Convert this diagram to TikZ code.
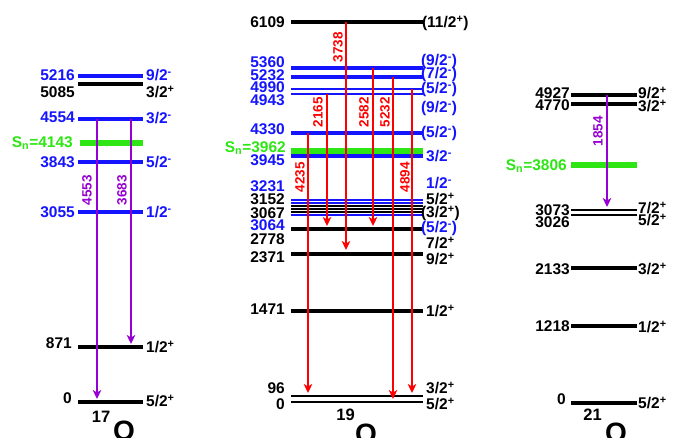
\documentclass[tikz,border=0pt]{standalone}
\usepackage{fontspec}
\setmainfont{Liberation Sans}
\usetikzlibrary{arrows.meta}
\definecolor{lvblue}{RGB}{20,20,255}
\definecolor{lvgreen}{RGB}{45,230,20}
\definecolor{lvred}{RGB}{255,0,0}
\definecolor{lvpurple}{RGB}{150,0,210}
\begin{document}
\begin{tikzpicture}[x=1pt,y=-1pt,
  lev/.style={line width=3.1pt},
  pairlev/.style={line width=2.7pt},
  thinlev/.style={line width=2.1pt},
  snlev/.style={line width=6pt, lvgreen},
  lab/.style={font=\bfseries\fontsize{15.5}{16}\selectfont, inner sep=0pt, yshift=-5.6pt},
  llab/.style={lab, anchor=base east},
  rlab/.style={lab, anchor=base west},
  glab/.style={font=\bfseries\fontsize{13.5}{14}\selectfont, inner sep=0pt, rotate=90},
  garr/.style={line width=2pt, -{Stealth[length=9pt,width=8.5pt,inset=2.5pt]}},
  isolab/.style={font=\bfseries\fontsize{16.5}{17}\selectfont, inner sep=0pt, anchor=base east},
  elem/.style={font=\bfseries\fontsize{28}{28}\selectfont, inner sep=0pt, anchor=base west},
]
\path[use as bounding box, fill=white] (0,0) rectangle (683,438);

% ---------------- 17O ----------------
\draw[lev, lvblue] (78,76) -- (143,76);
\draw[lev] (78,84) -- (143,84);
\draw[lev, lvblue] (78,119) -- (143,119);
\draw[snlev] (80,143) -- (143,143);
\draw[lev, lvblue] (78,162) -- (143,162);
\draw[lev, lvblue] (78,212) -- (143,212);
\draw[lev] (78,347) -- (143,347);
\draw[lev] (78,402) -- (143,402);

\node[llab, lvblue] (a5216) at (75,75) {5216};
\node[llab] (a5085) at (75,92) {5085};
\node[llab, lvblue] (a4554) at (75,117) {4554};
\node[llab, lvgreen] (asn) at (73,142) {S\textsubscript{n}=4143};
\node[llab, lvblue] (a3843) at (75,162) {3843};
\node[llab, lvblue] (a3055) at (75,212) {3055};
\node[llab] (a871) at (72,343) {871};
\node[llab] (a0) at (72,398) {0};

\node[rlab, lvblue] (aj5216) at (146,75) {9/2\textsuperscript{-}};
\node[rlab] (aj5085) at (146,92) {3/2\textsuperscript{+}};
\node[rlab, lvblue] (aj4554) at (146,118) {3/2\textsuperscript{-}};
\node[rlab, lvblue] (aj3843) at (146,162) {5/2\textsuperscript{-}};
\node[rlab, lvblue] (aj3055) at (146,212) {1/2\textsuperscript{-}};
\node[rlab] (aj871) at (146,347) {1/2\textsuperscript{+}};
\node[rlab] (aj0) at (146,401) {5/2\textsuperscript{+}};

\coordinate (p1s) at (97,119); \coordinate (p1e) at (97,399);
\coordinate (p2s) at (131,119); \coordinate (p2e) at (131,344);
\draw[garr, lvpurple] (p1s) -- (p1e);
\draw[garr, lvpurple] (p2s) -- (p2e);
\node[glab, lvpurple] (g4553) at (87,190) {4553};
\node[glab, lvpurple] (g3683) at (122,190) {3683};

\node[elem] (o17) at (113,440) {O};
\node[isolab] (m17) at (110.5,422) {17};

% ---------------- 19O ----------------
\draw[lev] (291,22) -- (423,22);
\draw[lev, lvblue] (291,68) -- (423,68);
\draw[lev, lvblue] (291,77) -- (423,77);
\draw[pairlev, lvblue] (291,89) -- (423,89);
\draw[pairlev, lvblue] (291,94) -- (423,94);
\draw[lev, lvblue] (291,133) -- (423,133);
\draw[snlev] (291,151) -- (423,151);
\draw[lev, lvblue] (291,156) -- (423,156);
\draw[thinlev, lvblue] (291,200) -- (423,200);
\draw[thinlev, lvblue] (291,203) -- (423,203);
\draw[thinlev] (291,206) -- (423,206);
\draw[thinlev] (291,209) -- (423,209);
\draw[thinlev] (291,212) -- (423,212);
\draw[thinlev, lvblue] (291,215) -- (423,215);
\draw[lev] (291,229) -- (423,229);
\draw[lev] (291,254) -- (423,254);
\draw[lev] (291,311) -- (423,311);
\draw[pairlev] (291,396) -- (423,396);
\draw[pairlev] (291,402) -- (423,402);

\node[llab] (b6109) at (285,22) {6109};
\node[llab, lvblue] (b5360) at (285,62) {5360};
\node[llab, lvblue] (b5232) at (285,75) {5232};
\node[llab, lvblue] (b4990) at (285,87) {4990};
\node[llab, lvblue] (b4943) at (285,100) {4943};
\node[llab, lvblue] (b4330) at (285,129) {4330};
\node[llab, lvgreen] (bsn) at (286,147) {S\textsubscript{n}=3962};
\node[llab, lvblue] (b3945) at (285,160) {3945};
\node[llab, lvblue] (b3231) at (285,186) {3231};
\node[llab] (b3152) at (285,199) {3152};
\node[llab] (b3067) at (285,212.5) {3067};
\node[llab, lvblue] (b3064) at (285,224.5) {3064};
\node[llab] (b2778) at (285,239) {2778};
\node[llab] (b2371) at (285,257) {2371};
\node[llab] (b1471) at (285,309) {1471};
\node[llab] (b96) at (285,388) {96};
\node[llab] (b0) at (285,404) {0};

\node[rlab] (bj6109) at (427,22) {\llap{(}11/2\textsuperscript{+})};
\node[rlab, lvblue] (bj5360) at (426,60) {\llap{(}9/2\textsuperscript{-})};
\node[rlab, lvblue] (bj5232) at (426,73) {\llap{(}7/2\textsuperscript{-})};
\node[rlab, lvblue] (bj4990) at (426,88) {\llap{(}5/2\textsuperscript{-})};
\node[rlab, lvblue] (bj4943) at (426,107) {\llap{(}9/2\textsuperscript{-})};
\node[rlab, lvblue] (bj4330) at (426,132) {\llap{(}5/2\textsuperscript{-})};
\node[rlab, lvblue] (bj3945) at (426,156) {3/2\textsuperscript{-}};
\node[rlab, lvblue] (bj3231) at (426,183) {1/2\textsuperscript{-}};
\node[rlab] (bj3152) at (426,199) {5/2\textsuperscript{+}};
\node[rlab] (bj3067) at (426,212) {\llap{(}3/2\textsuperscript{+})};
\node[rlab, lvblue] (bj3064) at (426,227) {\llap{(}5/2\textsuperscript{-})};
\node[rlab] (bj2778) at (426,243) {7/2\textsuperscript{+}};
\node[rlab] (bj2371) at (426,259) {9/2\textsuperscript{+}};
\node[rlab] (bj1471) at (426,311) {1/2\textsuperscript{+}};
\node[rlab] (bj96) at (426,388) {3/2\textsuperscript{+}};
\node[rlab] (bj0) at (426,404) {5/2\textsuperscript{+}};

\coordinate (r1s) at (346,22);  \coordinate (r1e) at (346,250);
\coordinate (r2s) at (327,94);  \coordinate (r2e) at (327,226);
\coordinate (r3s) at (373,68);  \coordinate (r3e) at (373,226);
\coordinate (r4s) at (393,77);  \coordinate (r4e) at (393,399);
\coordinate (r5s) at (412,89);  \coordinate (r5e) at (412,393);
\coordinate (r6s) at (308,133); \coordinate (r6e) at (308,393);
\draw[garr, lvred] (r1s) -- (r1e);
\draw[garr, lvred] (r2s) -- (r2e);
\draw[garr, lvred] (r3s) -- (r3e);
\draw[garr, lvred] (r4s) -- (r4e);
\draw[garr, lvred] (r5s) -- (r5e);
\draw[garr, lvred] (r6s) -- (r6e);
\node[glab, lvred] (g3738) at (338,47) {3738};
\node[glab, lvred] (g2165) at (318,112) {2165};
\node[glab, lvred] (g2582) at (364,112) {2582};
\node[glab, lvred] (g5232) at (385,112) {5232};
\node[glab, lvred] (g4235) at (300,177) {4235};
\node[glab, lvred] (g4894) at (405,177) {4894};

\node[elem] (o19) at (355,443) {O};
\node[isolab] (m19) at (355,420) {19};

% ---------------- 21O ----------------
\draw[lev] (571,95) -- (637,95);
\draw[lev] (571,104) -- (637,104);
\draw[snlev] (571,165) -- (637,165);
\draw[pairlev] (571,210) -- (637,210);
\draw[pairlev] (571,215) -- (637,215);
\draw[lev] (571,268) -- (637,268);
\draw[lev] (571,326) -- (637,326);
\draw[lev] (571,403) -- (637,403);

\node[llab] (c4927) at (570,93) {4927};
\node[llab] (c4770) at (570,105) {4770};
\node[llab, lvgreen] (csn) at (567,165) {S\textsubscript{n}=3806};
\node[llab] (c3073) at (570,210) {3073};
\node[llab] (c3026) at (570,222) {3026};
\node[llab] (c2133) at (570,269) {2133};
\node[llab] (c1218) at (570,326) {1218};
\node[llab] (c0) at (566,399) {0};

\node[rlab] (cj4927) at (638,93) {9/2\textsuperscript{+}};
\node[rlab] (cj4770) at (638,106) {3/2\textsuperscript{+}};
\node[rlab] (cj3073) at (638,208) {7/2\textsuperscript{+}};
\node[rlab] (cj3026) at (638,220) {5/2\textsuperscript{+}};
\node[rlab] (cj2133) at (638,269) {3/2\textsuperscript{+}};
\node[rlab] (cj1218) at (638,327) {1/2\textsuperscript{+}};
\node[rlab] (cj0) at (638,403) {5/2\textsuperscript{+}};

\coordinate (q1s) at (607,95); \coordinate (q1e) at (607,207);
\draw[garr, lvpurple] (q1s) -- (q1e);
\node[glab, lvpurple] (g1854) at (598,131) {1854};

\node[elem] (o21) at (605,442) {O};
\node[isolab] (m21) at (602,420) {21};
\end{tikzpicture}
\end{document}
